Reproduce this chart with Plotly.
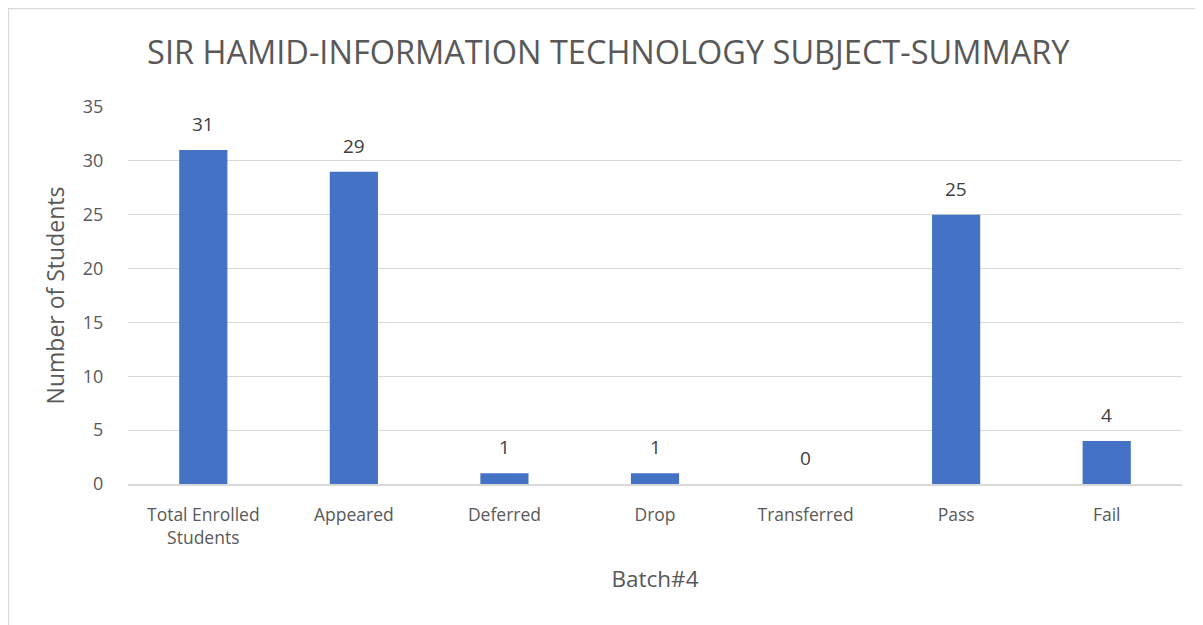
import plotly.graph_objects as go

categories = ["Total Enrolled<br>Students", "Appeared", "Deferred", "Drop",
              "Transferred", "Pass", "Fail"]
students = [31, 29, 1, 1, 0, 25, 4]
y_ticks = [0, 5, 10, 15, 20, 25, 30, 35]

FONT = "Open Sans, sans-serif"
GREY = "#595959"

fig = go.Figure()
fig.add_trace(
    go.Bar(
        x=categories,
        y=students,
        marker=dict(color="#4472C4", line=dict(width=0)),
        hoverinfo="x+y",
    )
)

# data labels sit a fixed distance above each bar, as in Excel
for cat, val in zip(categories, students):
    fig.add_annotation(
        x=cat, y=val, text=str(val), showarrow=False,
        yanchor="middle", yshift=26,
        font=dict(size=19, color="#404040", family=FONT),
    )

fig.update_layout(
    width=1203,
    height=625,
    margin=dict(l=120, r=29, t=99, b=149),
    paper_bgcolor="white",
    plot_bgcolor="white",
    showlegend=False,
    bargap=0.68,
    font=dict(family=FONT, color=GREY, size=18),
    title=dict(
        text="SIR HAMID-INFORMATION TECHNOLOGY SUBJECT-SUMMARY",
        x=0.499, xanchor="center", y=0.928, yanchor="middle",
        font=dict(size=32.5, color=GREY, family=FONT),
    ),
    xaxis=dict(
        title=dict(text="Batch#4", font=dict(size=22.5, color=GREY), standoff=24),
        showgrid=False,
        showline=True, linecolor="#d9d9d9", linewidth=1.5,
        tickfont=dict(size=17.5, color=GREY),
        ticks="",
        ticklabelstandoff=14,
    ),
    yaxis=dict(
        title=dict(text="Number of Students", font=dict(size=23, color=GREY), standoff=11),
        range=[0, 35],
        tickvals=y_ticks,
        gridcolor="#d9d9d9", gridwidth=1,
        zeroline=False,
        tickfont=dict(size=18, color=GREY),
        ticks="outside", ticklen=20, tickcolor="white",
    ),
)

fig.add_shape(
    type="rect", xref="paper", yref="paper",
    x0=-0.1135, x1=1.2, y0=-0.6, y1=1.2615,
    line=dict(color="#d9d9d9", width=1.5),
    layer="below",
)

fig.write_html("out.html")
